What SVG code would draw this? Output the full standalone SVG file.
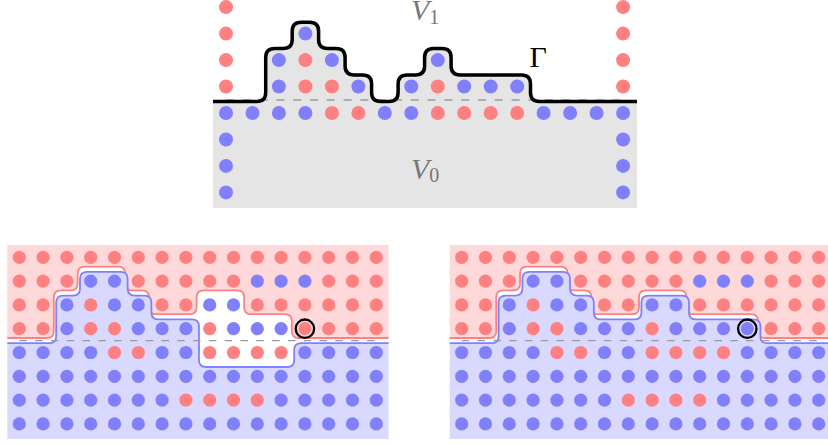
<svg xmlns="http://www.w3.org/2000/svg" xmlns:xlink="http://www.w3.org/1999/xlink" width="828" height="444" viewBox="0 0 828 444">
<style>
.lbl{font-family:"Liberation Serif","DejaVu Serif",serif;font-style:italic;fill:#777777;font-size:30px}
.sub{font-style:normal;font-size:20px}
.gam{font-family:"Liberation Serif","DejaVu Serif",serif;fill:#000;font-size:30px}
.dash{stroke:#9a9a9a;stroke-width:1.3;fill:none}
.gamma{fill:none;stroke:#000;stroke-width:3.5;stroke-linejoin:round}
.redc{fill:#ffd9d9;stroke:#ff8080;stroke-width:1.8}
.bluec{fill:#d9d9ff;stroke:#8080ff;stroke-width:1.8}
.ring{fill:none;stroke:#000;stroke-width:2.3}
</style>
<defs>
<circle id="RT" r="7" fill="#ff8080"/>
<circle id="BT" r="7" fill="#8080ff"/>
<circle id="R" r="6.6" fill="#ff8080"/>
<circle id="B" r="6.6" fill="#8080ff"/>
<clipPath id="clipP" clipPathUnits="userSpaceOnUse"><rect x="7.3" y="245" width="381.3" height="194"/></clipPath>
</defs>

<g id="panel-top">
<path fill="#e5e5e5" d="M213,101.5 L256.7,101.5 Q265.7,101.5 265.7,92.5 L265.7,57.6 Q265.7,48.6 274.7,48.6 L283.2,48.6 Q292.2,48.6 292.2,39.6 L292.2,31.2 Q292.2,22.2 301.2,22.2 L309.6,22.2 Q318.6,22.2 318.6,31.2 L318.6,39.6 Q318.6,48.6 327.6,48.6 L336.1,48.6 Q345.1,48.6 345.1,57.6 L345.1,66.1 Q345.1,75.1 354.1,75.1 L362.6,75.1 Q371.6,75.1 371.6,84.1 L371.6,92.5 Q371.6,101.5 380.6,101.5 L389.1,101.5 Q398.1,101.5 398.1,92.5 L398.1,84.1 Q398.1,75.1 407.1,75.1 L415.6,75.1 Q424.6,75.1 424.6,66.1 L424.6,57.6 Q424.6,48.6 433.6,48.6 L442.1,48.6 Q451.1,48.6 451.1,57.6 L451.1,66.1 Q451.1,75.1 460.1,75.1 L521.5,75.1 Q530.5,75.1 530.5,84.1 L530.5,92.5 Q530.5,101.5 539.5,101.5 L637,101.5 L637,208 L213,208 Z"/>
<line class="dash" x1="226" y1="100" x2="623" y2="100" stroke-dasharray="8 8.8"/>
<g id="top-dots">
<use href="#BT" x="226" y="113"/><use href="#BT" x="252.5" y="113"/><use href="#BT" x="278.9" y="113"/><use href="#BT" x="305.4" y="113"/><use href="#RT" x="331.9" y="113"/><use href="#RT" x="358.4" y="113"/><use href="#BT" x="384.8" y="113"/><use href="#BT" x="411.3" y="113"/><use href="#RT" x="437.8" y="113"/><use href="#RT" x="464.2" y="113"/><use href="#RT" x="490.7" y="113"/><use href="#RT" x="517.2" y="113"/><use href="#BT" x="543.6" y="113"/><use href="#BT" x="570.1" y="113"/><use href="#BT" x="596.6" y="113"/><use href="#BT" x="623.1" y="113"/>
<use href="#RT" x="226" y="86.5"/><use href="#BT" x="278.9" y="86.5"/><use href="#RT" x="305.4" y="86.5"/><use href="#RT" x="331.9" y="86.5"/><use href="#BT" x="358.4" y="86.5"/><use href="#BT" x="411.3" y="86.5"/><use href="#RT" x="437.8" y="86.5"/><use href="#BT" x="464.2" y="86.5"/><use href="#BT" x="490.7" y="86.5"/><use href="#BT" x="517.2" y="86.5"/><use href="#RT" x="623.1" y="86.5"/>
<use href="#RT" x="226" y="60.1"/><use href="#BT" x="278.9" y="60.1"/><use href="#RT" x="305.4" y="60.1"/><use href="#BT" x="331.9" y="60.1"/><use href="#BT" x="437.8" y="60.1"/><use href="#RT" x="623.1" y="60.1"/>
<use href="#RT" x="226" y="33.6"/><use href="#BT" x="305.4" y="33.6"/><use href="#RT" x="623.1" y="33.6"/>
<use href="#RT" x="226" y="7.1"/><use href="#RT" x="623.1" y="7.1"/>
<use href="#BT" x="226" y="139.5"/><use href="#BT" x="623.1" y="139.5"/>
<use href="#BT" x="226" y="165.9"/><use href="#BT" x="623.1" y="165.9"/>
<use href="#BT" x="226" y="192.4"/><use href="#BT" x="623.1" y="192.4"/>
</g>
<path class="gamma" d="M213,101.5 L256.7,101.5 Q265.7,101.5 265.7,92.5 L265.7,57.6 Q265.7,48.6 274.7,48.6 L283.2,48.6 Q292.2,48.6 292.2,39.6 L292.2,31.2 Q292.2,22.2 301.2,22.2 L309.6,22.2 Q318.6,22.2 318.6,31.2 L318.6,39.6 Q318.6,48.6 327.6,48.6 L336.1,48.6 Q345.1,48.6 345.1,57.6 L345.1,66.1 Q345.1,75.1 354.1,75.1 L362.6,75.1 Q371.6,75.1 371.6,84.1 L371.6,92.5 Q371.6,101.5 380.6,101.5 L389.1,101.5 Q398.1,101.5 398.1,92.5 L398.1,84.1 Q398.1,75.1 407.1,75.1 L415.6,75.1 Q424.6,75.1 424.6,66.1 L424.6,57.6 Q424.6,48.6 433.6,48.6 L442.1,48.6 Q451.1,48.6 451.1,57.6 L451.1,66.1 Q451.1,75.1 460.1,75.1 L521.5,75.1 Q530.5,75.1 530.5,84.1 L530.5,92.5 Q530.5,101.5 539.5,101.5 L637,101.5"/>
<text class="lbl" x="411" y="20">V<tspan class="sub" dy="4">1</tspan></text>
<text class="lbl" x="411" y="178.5">V<tspan class="sub" dy="3.5">0</tspan></text>
<text class="gam" x="529.5" y="67">Γ</text>
</g>

<g id="panel-left">
<g clip-path="url(#clipP)">
<path class="redc" transform="translate(-1.2,-2.6)" d="M0,340.6 H48 Q55,340.6 55,333.6 V300 Q55,293 62,293 H71.8 Q78.8,293 78.8,286 V276.2 Q78.8,269.2 85.8,269.2 H119.4 Q126.4,269.2 126.4,276.2 V286 Q126.4,293 133.4,293 H143.2 Q150.2,293 150.2,300 V309.8 Q150.2,316.8 157.2,316.8 H190.8 Q197.8,316.8 197.8,309.8 V300 Q197.8,293 204.8,293 H238.4 Q245.4,293 245.4,300 V309.8 Q245.4,316.8 252.4,316.8 H286 Q293,316.8 293,323.8 V333.6 Q293,340.6 300,340.6 H398 V230 H-5 V340.6 Z"/>
<path class="bluec" transform="translate(1.2,2.6)" d="M0,340.6 H48 Q55,340.6 55,333.6 V300 Q55,293 62,293 H71.8 Q78.8,293 78.8,286 V276.2 Q78.8,269.2 85.8,269.2 H119.4 Q126.4,269.2 126.4,276.2 V286 Q126.4,293 133.4,293 H143.2 Q150.2,293 150.2,300 V309.8 Q150.2,316.8 157.2,316.8 H190.8 Q197.8,316.8 197.8,323.8 V357.4 Q197.8,364.4 204.8,364.4 H286 Q293,364.4 293,357.4 V347.6 Q293,340.6 300,340.6 H398 V455 H-5 V340.6 Z"/>
</g>
<line class="dash" x1="19.3" y1="340.6" x2="376.3" y2="340.6" stroke-dasharray="7.5 8.3"/>
<g id="left-dots">
<use href="#R" x="19.3" y="257.3"/><use href="#R" x="43.1" y="257.3"/><use href="#R" x="66.9" y="257.3"/><use href="#R" x="90.7" y="257.3"/><use href="#R" x="114.5" y="257.3"/><use href="#R" x="138.3" y="257.3"/><use href="#R" x="162.1" y="257.3"/><use href="#R" x="185.9" y="257.3"/><use href="#R" x="209.7" y="257.3"/><use href="#R" x="233.5" y="257.3"/><use href="#R" x="257.3" y="257.3"/><use href="#R" x="281.1" y="257.3"/><use href="#R" x="304.9" y="257.3"/><use href="#R" x="328.7" y="257.3"/><use href="#R" x="352.5" y="257.3"/><use href="#R" x="376.3" y="257.3"/>
<use href="#R" x="19.3" y="281.1"/><use href="#R" x="43.1" y="281.1"/><use href="#R" x="66.9" y="281.1"/><use href="#B" x="90.7" y="281.1"/><use href="#B" x="114.5" y="281.1"/><use href="#R" x="138.3" y="281.1"/><use href="#R" x="162.1" y="281.1"/><use href="#R" x="185.9" y="281.1"/><use href="#R" x="209.7" y="281.1"/><use href="#R" x="233.5" y="281.1"/><use href="#B" x="257.3" y="281.1"/><use href="#B" x="281.1" y="281.1"/><use href="#B" x="304.9" y="281.1"/><use href="#R" x="328.7" y="281.1"/><use href="#R" x="352.5" y="281.1"/><use href="#R" x="376.3" y="281.1"/>
<use href="#R" x="19.3" y="304.9"/><use href="#R" x="43.1" y="304.9"/><use href="#B" x="66.9" y="304.9"/><use href="#R" x="90.7" y="304.9"/><use href="#B" x="114.5" y="304.9"/><use href="#B" x="138.3" y="304.9"/><use href="#R" x="162.1" y="304.9"/><use href="#R" x="185.9" y="304.9"/><use href="#B" x="209.7" y="304.9"/><use href="#B" x="233.5" y="304.9"/><use href="#R" x="257.3" y="304.9"/><use href="#R" x="281.1" y="304.9"/><use href="#R" x="304.9" y="304.9"/><use href="#R" x="328.7" y="304.9"/><use href="#R" x="352.5" y="304.9"/><use href="#R" x="376.3" y="304.9"/>
<use href="#R" x="19.3" y="328.7"/><use href="#R" x="43.1" y="328.7"/><use href="#B" x="66.9" y="328.7"/><use href="#R" x="90.7" y="328.7"/><use href="#R" x="114.5" y="328.7"/><use href="#B" x="138.3" y="328.7"/><use href="#B" x="162.1" y="328.7"/><use href="#B" x="185.9" y="328.7"/><use href="#R" x="209.7" y="328.7"/><use href="#B" x="233.5" y="328.7"/><use href="#B" x="257.3" y="328.7"/><use href="#B" x="281.1" y="328.7"/><use href="#R" x="304.9" y="328.7"/><use href="#R" x="328.7" y="328.7"/><use href="#R" x="352.5" y="328.7"/><use href="#R" x="376.3" y="328.7"/>
<use href="#B" x="19.3" y="352.5"/><use href="#B" x="43.1" y="352.5"/><use href="#B" x="66.9" y="352.5"/><use href="#B" x="90.7" y="352.5"/><use href="#R" x="114.5" y="352.5"/><use href="#R" x="138.3" y="352.5"/><use href="#B" x="162.1" y="352.5"/><use href="#B" x="185.9" y="352.5"/><use href="#R" x="209.7" y="352.5"/><use href="#R" x="233.5" y="352.5"/><use href="#R" x="257.3" y="352.5"/><use href="#R" x="281.1" y="352.5"/><use href="#B" x="304.9" y="352.5"/><use href="#B" x="328.7" y="352.5"/><use href="#B" x="352.5" y="352.5"/><use href="#B" x="376.3" y="352.5"/>
<use href="#B" x="19.3" y="376.3"/><use href="#B" x="43.1" y="376.3"/><use href="#B" x="66.9" y="376.3"/><use href="#B" x="90.7" y="376.3"/><use href="#B" x="114.5" y="376.3"/><use href="#B" x="138.3" y="376.3"/><use href="#B" x="162.1" y="376.3"/><use href="#B" x="185.9" y="376.3"/><use href="#B" x="209.7" y="376.3"/><use href="#B" x="233.5" y="376.3"/><use href="#B" x="257.3" y="376.3"/><use href="#B" x="281.1" y="376.3"/><use href="#B" x="304.9" y="376.3"/><use href="#B" x="328.7" y="376.3"/><use href="#B" x="352.5" y="376.3"/><use href="#B" x="376.3" y="376.3"/>
<use href="#B" x="19.3" y="400.1"/><use href="#B" x="43.1" y="400.1"/><use href="#B" x="66.9" y="400.1"/><use href="#B" x="90.7" y="400.1"/><use href="#B" x="114.5" y="400.1"/><use href="#B" x="138.3" y="400.1"/><use href="#B" x="162.1" y="400.1"/><use href="#R" x="185.9" y="400.1"/><use href="#R" x="209.7" y="400.1"/><use href="#R" x="233.5" y="400.1"/><use href="#R" x="257.3" y="400.1"/><use href="#B" x="281.1" y="400.1"/><use href="#B" x="304.9" y="400.1"/><use href="#B" x="328.7" y="400.1"/><use href="#B" x="352.5" y="400.1"/><use href="#B" x="376.3" y="400.1"/>
<use href="#B" x="19.3" y="423.9"/><use href="#B" x="43.1" y="423.9"/><use href="#B" x="66.9" y="423.9"/><use href="#B" x="90.7" y="423.9"/><use href="#B" x="114.5" y="423.9"/><use href="#B" x="138.3" y="423.9"/><use href="#B" x="162.1" y="423.9"/><use href="#B" x="185.9" y="423.9"/><use href="#B" x="209.7" y="423.9"/><use href="#B" x="233.5" y="423.9"/><use href="#B" x="257.3" y="423.9"/><use href="#B" x="281.1" y="423.9"/><use href="#B" x="304.9" y="423.9"/><use href="#B" x="328.7" y="423.9"/><use href="#B" x="352.5" y="423.9"/><use href="#B" x="376.3" y="423.9"/>
</g>
<circle class="ring" cx="304.9" cy="328.7" r="9.2"/>
</g>

<g id="panel-right" transform="translate(442.4,0)">
<g clip-path="url(#clipP)">
<path class="redc" transform="translate(-1.2,-2.6)" d="M0,340.6 H48 Q55,340.6 55,333.6 V300 Q55,293 62,293 H71.8 Q78.8,293 78.8,286 V276.2 Q78.8,269.2 85.8,269.2 H119.4 Q126.4,269.2 126.4,276.2 V286 Q126.4,293 133.4,293 H143.2 Q150.2,293 150.2,300 V309.8 Q150.2,316.8 157.2,316.8 H190.8 Q197.8,316.8 197.8,309.8 V300 Q197.8,293 204.8,293 H238.4 Q245.4,293 245.4,300 V309.8 Q245.4,316.8 252.4,316.8 H309.8 Q316.8,316.8 316.8,323.8 V333.6 Q316.8,340.6 323.8,340.6 H398 V230 H-5 V340.6 Z"/>
<path class="bluec" transform="translate(1.2,2.6)" d="M0,340.6 H48 Q55,340.6 55,333.6 V300 Q55,293 62,293 H71.8 Q78.8,293 78.8,286 V276.2 Q78.8,269.2 85.8,269.2 H119.4 Q126.4,269.2 126.4,276.2 V286 Q126.4,293 133.4,293 H143.2 Q150.2,293 150.2,300 V309.8 Q150.2,316.8 157.2,316.8 H190.8 Q197.8,316.8 197.8,309.8 V300 Q197.8,293 204.8,293 H238.4 Q245.4,293 245.4,300 V309.8 Q245.4,316.8 252.4,316.8 H309.8 Q316.8,316.8 316.8,323.8 V333.6 Q316.8,340.6 323.8,340.6 H398 V455 H-5 V340.6 Z"/>
</g>
<line class="dash" x1="19.3" y1="340.6" x2="376.3" y2="340.6" stroke-dasharray="7.5 8.3"/>
<g id="right-dots">
<use href="#R" x="19.3" y="257.3"/><use href="#R" x="43.1" y="257.3"/><use href="#R" x="66.9" y="257.3"/><use href="#R" x="90.7" y="257.3"/><use href="#R" x="114.5" y="257.3"/><use href="#R" x="138.3" y="257.3"/><use href="#R" x="162.1" y="257.3"/><use href="#R" x="185.9" y="257.3"/><use href="#R" x="209.7" y="257.3"/><use href="#R" x="233.5" y="257.3"/><use href="#R" x="257.3" y="257.3"/><use href="#R" x="281.1" y="257.3"/><use href="#R" x="304.9" y="257.3"/><use href="#R" x="328.7" y="257.3"/><use href="#R" x="352.5" y="257.3"/><use href="#R" x="376.3" y="257.3"/>
<use href="#R" x="19.3" y="281.1"/><use href="#R" x="43.1" y="281.1"/><use href="#R" x="66.9" y="281.1"/><use href="#B" x="90.7" y="281.1"/><use href="#B" x="114.5" y="281.1"/><use href="#R" x="138.3" y="281.1"/><use href="#R" x="162.1" y="281.1"/><use href="#R" x="185.9" y="281.1"/><use href="#R" x="209.7" y="281.1"/><use href="#R" x="233.5" y="281.1"/><use href="#B" x="257.3" y="281.1"/><use href="#B" x="281.1" y="281.1"/><use href="#B" x="304.9" y="281.1"/><use href="#R" x="328.7" y="281.1"/><use href="#R" x="352.5" y="281.1"/><use href="#R" x="376.3" y="281.1"/>
<use href="#R" x="19.3" y="304.9"/><use href="#R" x="43.1" y="304.9"/><use href="#B" x="66.9" y="304.9"/><use href="#R" x="90.7" y="304.9"/><use href="#B" x="114.5" y="304.9"/><use href="#B" x="138.3" y="304.9"/><use href="#R" x="162.1" y="304.9"/><use href="#R" x="185.9" y="304.9"/><use href="#B" x="209.7" y="304.9"/><use href="#B" x="233.5" y="304.9"/><use href="#R" x="257.3" y="304.9"/><use href="#R" x="281.1" y="304.9"/><use href="#R" x="304.9" y="304.9"/><use href="#R" x="328.7" y="304.9"/><use href="#R" x="352.5" y="304.9"/><use href="#R" x="376.3" y="304.9"/>
<use href="#R" x="19.3" y="328.7"/><use href="#R" x="43.1" y="328.7"/><use href="#B" x="66.9" y="328.7"/><use href="#R" x="90.7" y="328.7"/><use href="#R" x="114.5" y="328.7"/><use href="#B" x="138.3" y="328.7"/><use href="#B" x="162.1" y="328.7"/><use href="#B" x="185.9" y="328.7"/><use href="#R" x="209.7" y="328.7"/><use href="#B" x="233.5" y="328.7"/><use href="#B" x="257.3" y="328.7"/><use href="#B" x="281.1" y="328.7"/><use href="#B" x="304.9" y="328.7"/><use href="#R" x="328.7" y="328.7"/><use href="#R" x="352.5" y="328.7"/><use href="#R" x="376.3" y="328.7"/>
<use href="#B" x="19.3" y="352.5"/><use href="#B" x="43.1" y="352.5"/><use href="#B" x="66.9" y="352.5"/><use href="#B" x="90.7" y="352.5"/><use href="#R" x="114.5" y="352.5"/><use href="#R" x="138.3" y="352.5"/><use href="#B" x="162.1" y="352.5"/><use href="#B" x="185.9" y="352.5"/><use href="#R" x="209.7" y="352.5"/><use href="#R" x="233.5" y="352.5"/><use href="#R" x="257.3" y="352.5"/><use href="#R" x="281.1" y="352.5"/><use href="#B" x="304.9" y="352.5"/><use href="#B" x="328.7" y="352.5"/><use href="#B" x="352.5" y="352.5"/><use href="#B" x="376.3" y="352.5"/>
<use href="#B" x="19.3" y="376.3"/><use href="#B" x="43.1" y="376.3"/><use href="#B" x="66.9" y="376.3"/><use href="#B" x="90.7" y="376.3"/><use href="#B" x="114.5" y="376.3"/><use href="#B" x="138.3" y="376.3"/><use href="#B" x="162.1" y="376.3"/><use href="#B" x="185.9" y="376.3"/><use href="#B" x="209.7" y="376.3"/><use href="#B" x="233.5" y="376.3"/><use href="#B" x="257.3" y="376.3"/><use href="#B" x="281.1" y="376.3"/><use href="#B" x="304.9" y="376.3"/><use href="#B" x="328.7" y="376.3"/><use href="#B" x="352.5" y="376.3"/><use href="#B" x="376.3" y="376.3"/>
<use href="#B" x="19.3" y="400.1"/><use href="#B" x="43.1" y="400.1"/><use href="#B" x="66.9" y="400.1"/><use href="#B" x="90.7" y="400.1"/><use href="#B" x="114.5" y="400.1"/><use href="#B" x="138.3" y="400.1"/><use href="#B" x="162.1" y="400.1"/><use href="#R" x="185.9" y="400.1"/><use href="#R" x="209.7" y="400.1"/><use href="#R" x="233.5" y="400.1"/><use href="#R" x="257.3" y="400.1"/><use href="#B" x="281.1" y="400.1"/><use href="#B" x="304.9" y="400.1"/><use href="#B" x="328.7" y="400.1"/><use href="#B" x="352.5" y="400.1"/><use href="#B" x="376.3" y="400.1"/>
<use href="#B" x="19.3" y="423.9"/><use href="#B" x="43.1" y="423.9"/><use href="#B" x="66.9" y="423.9"/><use href="#B" x="90.7" y="423.9"/><use href="#B" x="114.5" y="423.9"/><use href="#B" x="138.3" y="423.9"/><use href="#B" x="162.1" y="423.9"/><use href="#B" x="185.9" y="423.9"/><use href="#B" x="209.7" y="423.9"/><use href="#B" x="233.5" y="423.9"/><use href="#B" x="257.3" y="423.9"/><use href="#B" x="281.1" y="423.9"/><use href="#B" x="304.9" y="423.9"/><use href="#B" x="328.7" y="423.9"/><use href="#B" x="352.5" y="423.9"/><use href="#B" x="376.3" y="423.9"/>
</g>
<circle class="ring" cx="304.9" cy="328.7" r="9.2"/>
</g>
</svg>
